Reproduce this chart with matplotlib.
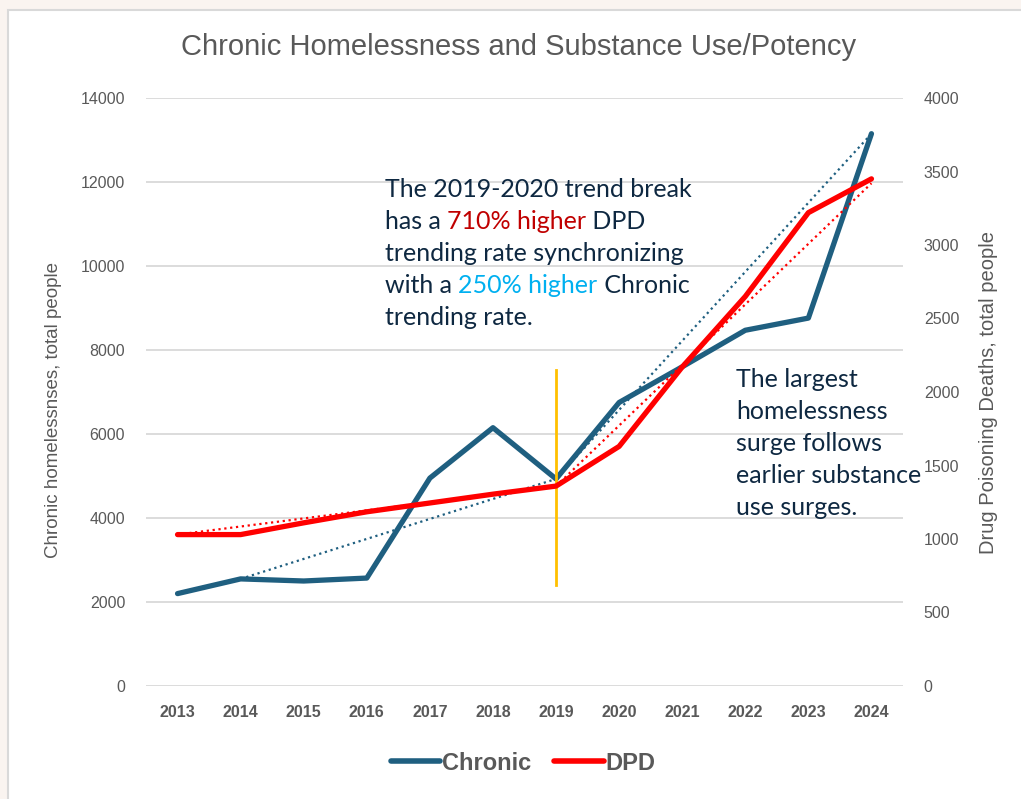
import matplotlib.pyplot as plt
from matplotlib.patches import Rectangle
from matplotlib.lines import Line2D

plt.rcParams['font.family'] = ['Liberation Sans', 'DejaVu Sans']

# data
years = [2013, 2014, 2015, 2016, 2017, 2018, 2019, 2020, 2021, 2022, 2023, 2024]
chronic = [2200, 2550, 2500, 2570, 4950, 6150, 4930, 6750, 7600, 8470, 8760, 13150]
dpd = [1030, 1030, 1110, 1185, 1245, 1305, 1360, 1630, 2170, 2650, 3220, 3450]

# trend segments (before / after the 2019 break)
chronic_trend_years = [[2014, 2019], [2019, 2024]]
chronic_trend_vals = [[2550, 4930], [4930, 13150]]
dpd_trend_years = [[2013, 2019], [2019, 2024]]
dpd_trend_vals = [[1030, 1360], [1360, 3420]]

break_year = 2019
break_span = [2400, 7520]

blue = '#1f5f80'
red = '#ff0000'
gray = '#595959'
navy = '#0e2841'

fig = plt.figure(figsize=(10.21, 7.99), dpi=100)
fig.patch.set_facecolor('#faf4f0')
fig.add_artist(Rectangle((8 / 1021, -0.01), 1.02, 1 - 10 / 799 + 0.01,
                         transform=fig.transFigure, facecolor='white',
                         edgecolor='#d9d9d9', linewidth=1.5, zorder=0))

ax = fig.add_axes([146 / 1021, 1 - 686 / 799, 757 / 1021, 588 / 799])
ax.set_facecolor('none')
ax2 = ax.twinx()

ax.set_xlim(2012.5, 2024.5)
ax.set_ylim(0, 14000)
ax2.set_ylim(0, 4000)
ax.set_yticks(range(0, 14001, 2000))
ax2.set_yticks(range(0, 4001, 500))
ax.set_xticks(years)
ax.set_xticklabels([str(y) for y in years], fontweight='bold', fontsize=13.5, color=gray)
ax.yaxis.grid(True, color='#d9d9d9', linewidth=1.3)
ax.set_axisbelow(True)
for a in (ax, ax2):
    for s in a.spines.values():
        s.set_visible(False)
    a.tick_params(length=0, labelsize=11.5, labelcolor=gray)
ax.tick_params(axis='y', pad=15)
ax.tick_params(axis='x', pad=14)
ax2.tick_params(axis='y', pad=15)

ax.set_ylabel('Chronic homelessnses, total people', fontsize=13.5, color=gray)
ax.yaxis.set_label_coords(-0.111, 0.469)
ax2.set_ylabel('Drug Poisoning Deaths, total people', fontsize=14.5, color=gray, labelpad=14)

# trend lines
for yy, vv in zip(chronic_trend_years, chronic_trend_vals):
    ax.plot(yy, vv, color=blue, linestyle=':', linewidth=1.6, zorder=3)
for yy, vv in zip(dpd_trend_years, dpd_trend_vals):
    ax2.plot(yy, vv, color=red, linestyle=':', linewidth=1.6, zorder=3)

ax.plot(years, chronic, color=blue, linewidth=3.8, solid_capstyle='round', zorder=4)
ax2.plot(years, dpd, color=red, linewidth=3.8, solid_capstyle='round', zorder=4)
ax.plot([break_year, break_year], break_span, color='#ffc000', linewidth=2, zorder=5)

fig.text(519 / 1021, 1 - 47 / 799, 'Chronic Homelessness and Substance Use/Potency',
         ha='center', va='center', fontsize=21, color=gray)

# annotations with coloured runs
afont = ['Lato', 'DejaVu Sans']
fs = 18
renderer = fig.canvas.get_renderer()


def rich_line(x_px, y_px, parts):
    x = x_px
    for txt, col in parts:
        t = fig.text(x / 1021, 1 - y_px / 799, txt, color=col, fontsize=fs,
                     family=afont, ha='left', va='baseline')
        x += t.get_window_extent(renderer).width


note1 = [
    [('The 2019-2020 trend break', navy)],
    [('has a ', navy), ('710% higher', '#c00000'), (' DPD', navy)],
    [('trending rate synchronizing', navy)],
    [('with a ', navy), ('250% higher', '#00b0f0'), (' Chronic', navy)],
    [('trending rate.', navy)],
]
for i, parts in enumerate(note1):
    rich_line(385, 197 + i * 32, parts)

note2 = ['The largest', 'homelessness', 'surge follows', 'earlier substance', 'use surges.']
for i, s in enumerate(note2):
    rich_line(736, 387 + i * 32, [(s, navy)])

handles = [Line2D([], [], color=blue, linewidth=4, solid_capstyle='round'),
           Line2D([], [], color=red, linewidth=4, solid_capstyle='round')]
leg = fig.legend(handles, ['Chronic', 'DPD'], loc='center', bbox_to_anchor=(523 / 1021, 1 - 763 / 799),
                 ncol=2, frameon=False, handlelength=2.1, handletextpad=0.05, columnspacing=1.0,
                 prop={'weight': 'bold', 'size': 17})
for t in leg.get_texts():
    t.set_color(gray)

fig.savefig('out.png', dpi=100, facecolor=fig.get_facecolor())
